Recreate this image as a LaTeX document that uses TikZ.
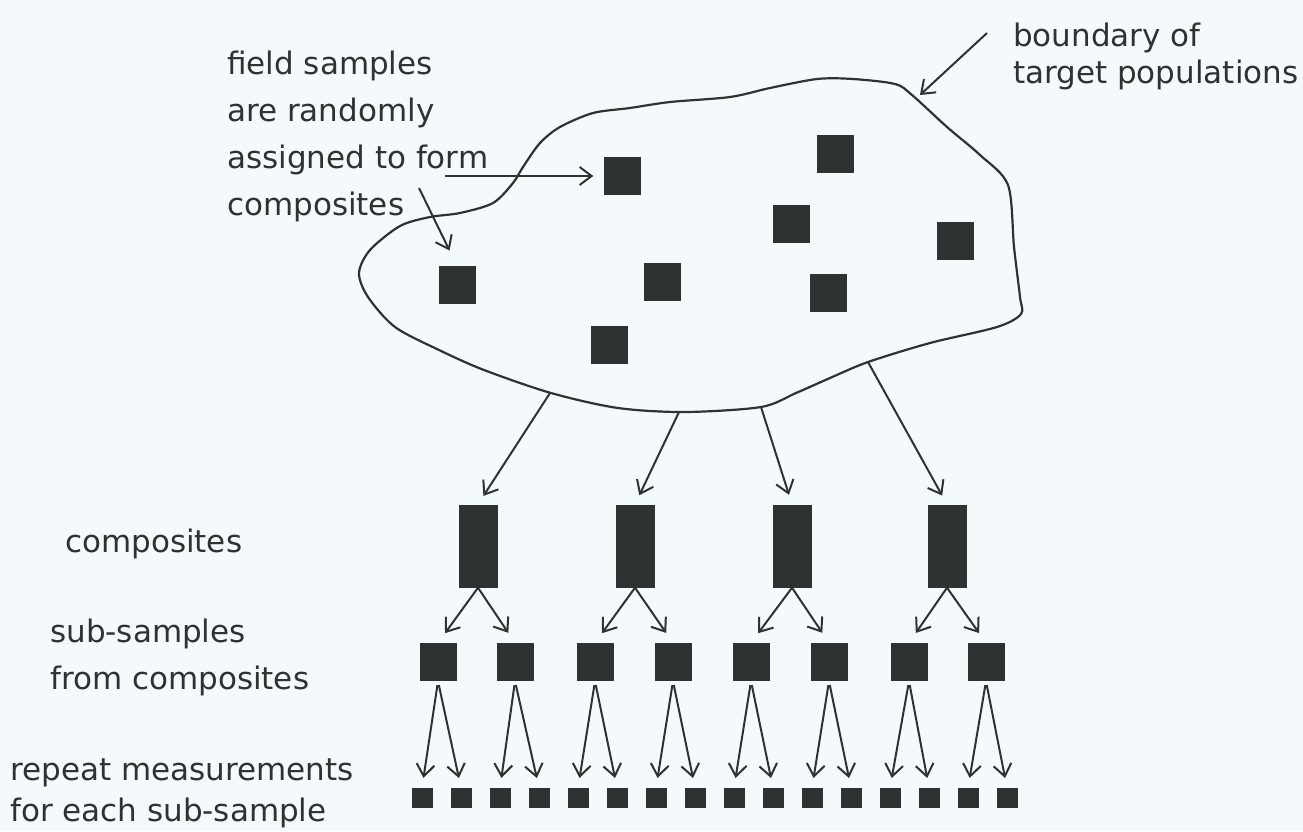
\documentclass[tikz,border=0pt]{standalone}
\usepackage{fontspec}
\setmainfont{DejaVu Sans}
\usetikzlibrary{arrows.meta}
\definecolor{paper}{RGB}{244,250,252}
\definecolor{ink}{RGB}{46,50,48}

\begin{document}
\begin{tikzpicture}[x=1pt, y=-1pt, font=\fontsize{31}{47}\selectfont, text=ink,
  sq/.style={fill=ink, inner sep=0, minimum width=37pt, minimum height=38pt},
  comp/.style={fill=ink, inner sep=0, minimum width=39pt, minimum height=83pt},
  tiny/.style={fill=ink, inner sep=0, minimum width=21pt, minimum height=20pt},
  lbl/.style={align=left, inner sep=0, anchor=north west},
  a/.style={-{Straight Barb[length=12pt, width=18pt]}, line width=2pt, draw=ink}]
\fill[paper] (0,0) rectangle (1303,831);
\useasboundingbox (0,0) rectangle (1303,831);

% boundary of the target population
\draw[ink, line width=2.2pt] plot[smooth cycle, tension=0.5] coordinates {
  (523,167) (540,143) (560,127) (593,113) (630,108) (670,102) (730,97)
  (770,88) (817,79) (853,79) (895,84) (912,95) (947,127) (980,155)
  (1008,185) (1014,247) (1020,297) (1021,314) (997,327) (930,343)
  (868,362) (830,378) (796,393) (761,407) (685,412) (618,408) (551,393)
  (484,370) (439,350) (395,327) (368,297) (359,273) (370,250) (400,226)
  (430,217) (460,213) (493,203) (513,183)};
\coordinate (b1) at (550,393);
\coordinate (b2) at (679,412);
\coordinate (b3) at (761,407);
\coordinate (b4) at (868,362);

% field samples
\node[sq] (f1) at (622,176) {};
\node[sq] (f2) at (835,154) {};
\node[sq] (f3) at (791,224) {};
\node[sq] (f4) at (955,241) {};
\node[sq] (f5) at (457,285) {};
\node[sq] (f6) at (662,282) {};
\node[sq] (f7) at (828,293) {};
\node[sq] (f8) at (609,345) {};

% composites, sub-samples, measurements
\foreach \i/\x in {1/478, 2/635, 3/792, 4/947}
  \node[comp] (c\i) at (\x,546) {};
\foreach \i/\x in {1/438, 2/515, 3/595, 4/673, 5/751, 6/829, 7/909, 8/986}
  \node[sq] (s\i) at (\x,662) {};
\foreach \i in {1,...,16}
  \node[tiny] (m\i) at ({383+39*\i},798) {};

% labels
\node[lbl] (fld) at (227,51) {field samples\\are randomly\\assigned to form\\composites};
\node[lbl, font=\fontsize{31}{37}\selectfont] (bnd) at (1013,23)
  {boundary of\\target populations};
\node[lbl, anchor=base west] (cmp) at (65,552) {composites};
\node[lbl] (sub) at (50,619) {sub-samples\\from composites};
\node[lbl, font=\fontsize{31}{41}\selectfont] (rep) at (10,759)
  {repeat measurements\\for each sub-sample};

\coordinate (p1) at (445,176);
\coordinate (p2) at (419,188);
\coordinate (q1) at (987,33);
\coordinate (q2) at (920,95);
\draw[a, shorten >=10pt] (p1) -- (f1.west);
\draw[a, shorten >=17pt] (p2) -- (f5.north);
\draw[a] (q1) -- (q2);

\foreach \i in {1,...,4}
  \draw[a, shorten >=10pt] (b\i) -- (c\i.north);
\foreach \i in {1,...,4} {
  \pgfmathtruncatemacro\l{2*\i-1}
  \pgfmathtruncatemacro\r{2*\i}
  \draw[a, shorten >=12pt] (c\i.south) -- (s\l.north);
  \draw[a, shorten >=12pt] (c\i.south) -- (s\r.north);
}
\foreach \i in {1,...,8} {
  \pgfmathtruncatemacro\l{2*\i-1}
  \pgfmathtruncatemacro\r{2*\i}
  \draw[a, shorten <=4pt, shorten >=10pt] (s\i.south) -- (m\l.north);
  \draw[a, shorten <=4pt, shorten >=10pt] (s\i.south) -- (m\r.north);
}
\end{tikzpicture}
\end{document}
